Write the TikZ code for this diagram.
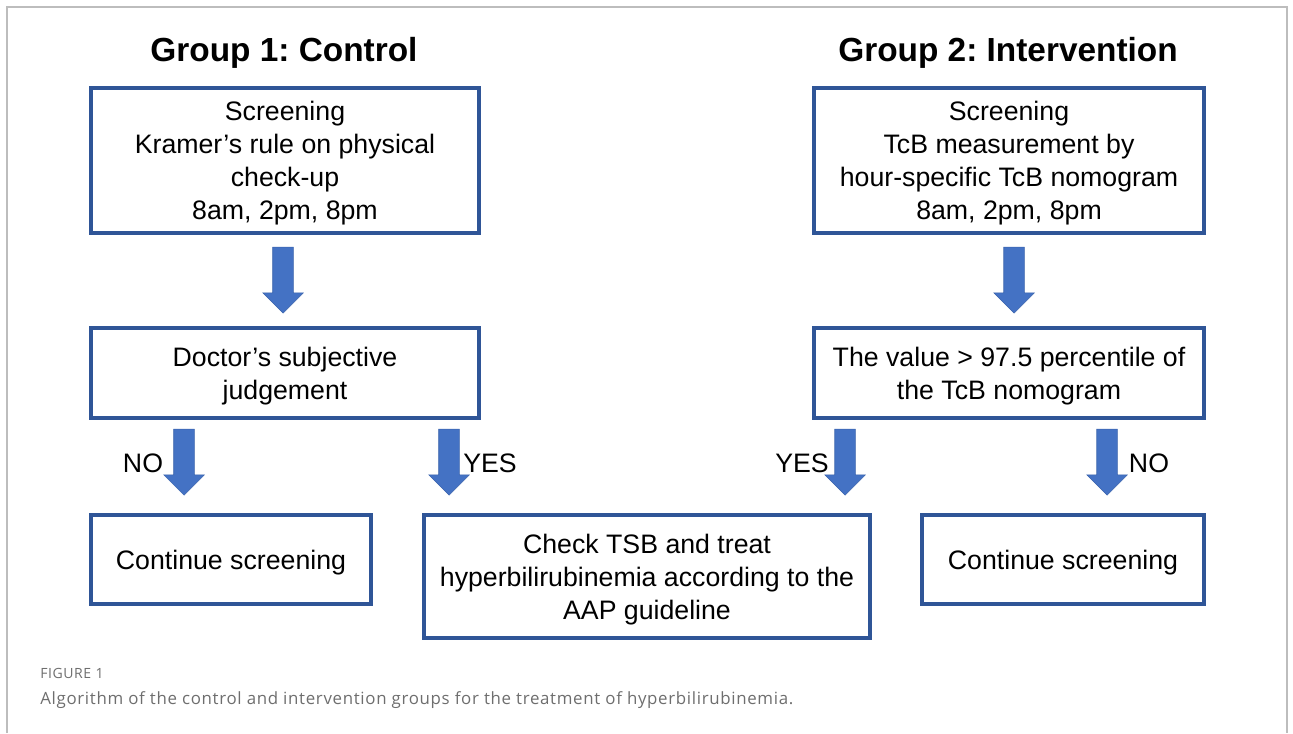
\documentclass[tikz,border=0pt]{standalone}
\usepackage{fontspec}
\setmainfont{Liberation Sans}
\newfontfamily\capfont[LetterSpace=4]{Open Sans}
\usetikzlibrary{shapes.arrows}
\frenchspacing

\definecolor{boxblue}{HTML}{2F5597}
\definecolor{arrowblue}{HTML}{4472C4}
\definecolor{arrowedge}{HTML}{3A63AC}
\definecolor{framegray}{HTML}{BDBDBD}
\definecolor{capgray}{HTML}{6E6E6E}

\begin{document}
\begin{tikzpicture}[x=0.02cm,y=-0.02cm,
  flow box/.style={draw=boxblue,line width=2.2pt,align=center,inner sep=0pt,
    text depth=0pt,font=\fontsize{15.2}{18.7}\selectfont},
  down arrow/.style={single arrow,shape border rotate=270,fill=arrowblue,
    draw=arrowedge,line width=0.3pt,inner sep=0.2cm,minimum height=1.32cm,
    minimum width=0.8cm,single arrow head extend=0.2cm},
  group title/.style={font=\fontsize{19}{22}\selectfont\bfseries},
  answer/.style={font=\fontsize{15.2}{17}\selectfont}]

  \useasboundingbox (0,0) rectangle (1293,733);
  \draw[framegray,line width=0.8pt] (7,733) -- (7,7) -- (1287,7) -- (1287,733);

  % titles
  \node[group title] (t1) at (284,53) {Group 1: Control};
  \node[group title] (t2) at (1008,53) {Group 2: Intervention};

  % boxes
  \node[flow box,minimum width=7.76cm,minimum height=2.9cm] (s1) at (285,160.5)
    {Screening\\Kramer’s rule on physical\\check-up\\8am, 2pm, 8pm};
  \node[flow box,minimum width=7.8cm,minimum height=2.9cm] (s2) at (1009,160.5)
    {Screening\\TcB measurement by\\hour-specific TcB nomogram\\8am, 2pm, 8pm};
  \node[flow box,minimum width=7.76cm,minimum height=1.8cm] (d1) at (285,373)
    {Doctor’s subjective\\judgement};
  \node[flow box,minimum width=7.8cm,minimum height=1.8cm] (d2) at (1009,373)
    {The value > 97.5 percentile of\\the TcB nomogram};
  \node[flow box,minimum width=5.6cm,minimum height=1.78cm] (c1) at (231,559.5)
    {Continue screening};
  \node[flow box,minimum width=8.92cm,minimum height=2.46cm] (tsb) at (647,576.5)
    {Check TSB and treat\\hyperbilirubinemia according to the\\AAP guideline};
  \node[flow box,minimum width=5.64cm,minimum height=1.78cm] (c2) at (1063,559.5)
    {Continue screening};

  % block arrows
  \node[down arrow] (a1) at (283,275) {};
  \node[down arrow] (a2) at (1014,275) {};
  \node[down arrow] (a3) at (184,457) {};
  \node[down arrow] (a4) at (449,457) {};
  \node[down arrow] (a5) at (845,457) {};
  \node[down arrow] (a6) at (1107,457) {};

  \node[answer] (no1) at (143,463) {NO};
  \node[answer] (yes1) at (490,463) {YES};
  \node[answer] (yes2) at (802,463) {YES};
  \node[answer] (no2) at (1149,463) {NO};

  % caption
  \node[anchor=base west,inner sep=0pt,text=capgray,font=\capfont\fontsize{8}{9}\selectfont] (fig) at (40,678) {FIGURE 1};
  \node[anchor=base west,inner sep=0pt,text=capgray,font=\capfont\fontsize{9.6}{11}\selectfont] (cap) at (40,704)
    {Algorithm of the control and intervention groups for the treatment of hyperbilirubinemia.};
\end{tikzpicture}
\end{document}
